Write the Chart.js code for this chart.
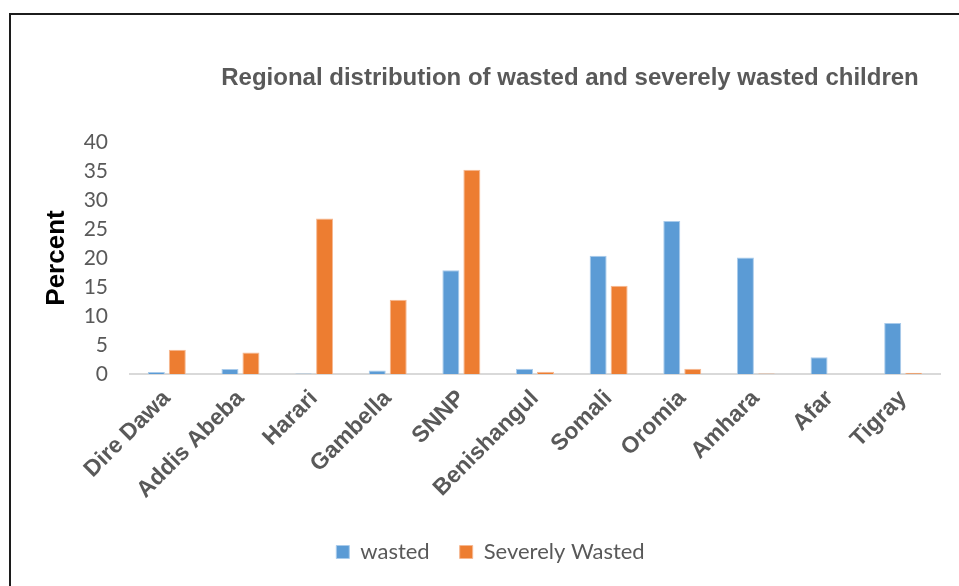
<!DOCTYPE html>
<html>
<head>
<meta charset="utf-8">
<script src="https://cdn.jsdelivr.net/npm/chart.js@4.4.1/dist/chart.umd.min.js"></script>
<style>
  html, body { margin: 0; padding: 0; background: #fff; overflow: hidden; }
  #frame { position: absolute; left: 9px; top: 13px; width: 1000px; height: 620px; border: 2px solid #1c1c1c; }
  #myChart { position: absolute; left: 0; top: 0; }
</style>
</head>
<body>
<div id="frame">
  <canvas id="myChart" width="948" height="571"></canvas>
</div>
<script>
// data
const chartTitle = "Regional distribution of wasted and severely wasted children";
const regions = ["Dire Dawa", "Addis Abeba", "Harari", "Gambella", "SNNP", "Benishangul", "Somali", "Oromia", "Amhara", "Afar", "Tigray"];
const wasted = [0.35, 0.85, 0.1, 0.6, 17.9, 0.9, 20.4, 26.4, 20.1, 2.9, 8.8];
const severelyWasted = [4.2, 3.7, 26.8, 12.8, 35.2, 0.4, 15.2, 0.9, 0.1, 0, 0.2];

const grey = "#595959";

// title sits off-centre in the original, so draw it ourselves
const titlePlugin = {
	id: "offsetTitle",
	afterDraw(chart) {
		const ctx = chart.ctx;
		ctx.save();
		ctx.font = "bold 24px 'Liberation Sans', Arial, sans-serif";
		ctx.fillStyle = grey;
		ctx.textAlign = "center";
		ctx.textBaseline = "middle";
		ctx.fillText(chartTitle, 559, 63);
		ctx.restore();
	},
};

var ctx = document.getElementById("myChart");
var wastedChart = new Chart(ctx, {
	type: "bar",
	data: {
		labels: regions,
		datasets: [
			{
				label: "wasted",
				data: wasted,
				backgroundColor: "#5B9BD5",
				borderColor: "#a9cbeb",
				borderWidth: 1,
				categoryPercentage: 0.57,
				barPercentage: 0.81,
			},
			{
				label: "Severely Wasted",
				data: severelyWasted,
				backgroundColor: "#ED7D31",
				borderColor: "#f6b891",
				borderWidth: 1,
				categoryPercentage: 0.57,
				barPercentage: 0.81,
			},
		],
	},
	options: {
		responsive: false,
		animation: false,
		layout: {
			padding: { top: 127, left: 30, right: 19, bottom: 13 },
		},
		plugins: {
			legend: {
				position: "bottom",
				labels: {
					boxWidth: 13,
					boxHeight: 13,
					padding: 30,
					color: grey,
					font: { family: "Lato", size: 22 },
				},
			},
			title: { display: false },
			tooltip: { enabled: false },
		},
		scales: {
			x: {
				grid: { display: true, drawOnChartArea: false, drawTicks: false },
				border: { display: true, color: "#D9D9D9", width: 2 },
				ticks: {
					autoSkip: false,
					minRotation: 45,
					maxRotation: 45,
					padding: 11,
					color: grey,
					font: { family: "'Liberation Sans', Arial, sans-serif", size: 23, weight: "bold" },
				},
				afterFit: function (scale) {
					scale.height = 137;
				},
			},
			y: {
				min: 0,
				max: 40,
				grid: { display: false, drawTicks: false },
				border: { display: false },
				ticks: {
					stepSize: 5,
					padding: 22,
					color: grey,
					font: { family: "Lato", size: 21 },
				},
				title: {
					display: true,
					text: "Percent",
					color: "#000",
					padding: { top: 0, bottom: 0 },
					font: { family: "'Liberation Sans', Arial, sans-serif", size: 26, weight: "bold" },
				},
				afterFit: function (scale) {
					scale.width = 89;
				},
			},
		},
	},
	plugins: [titlePlugin],
});
</script>
</body>
</html>
